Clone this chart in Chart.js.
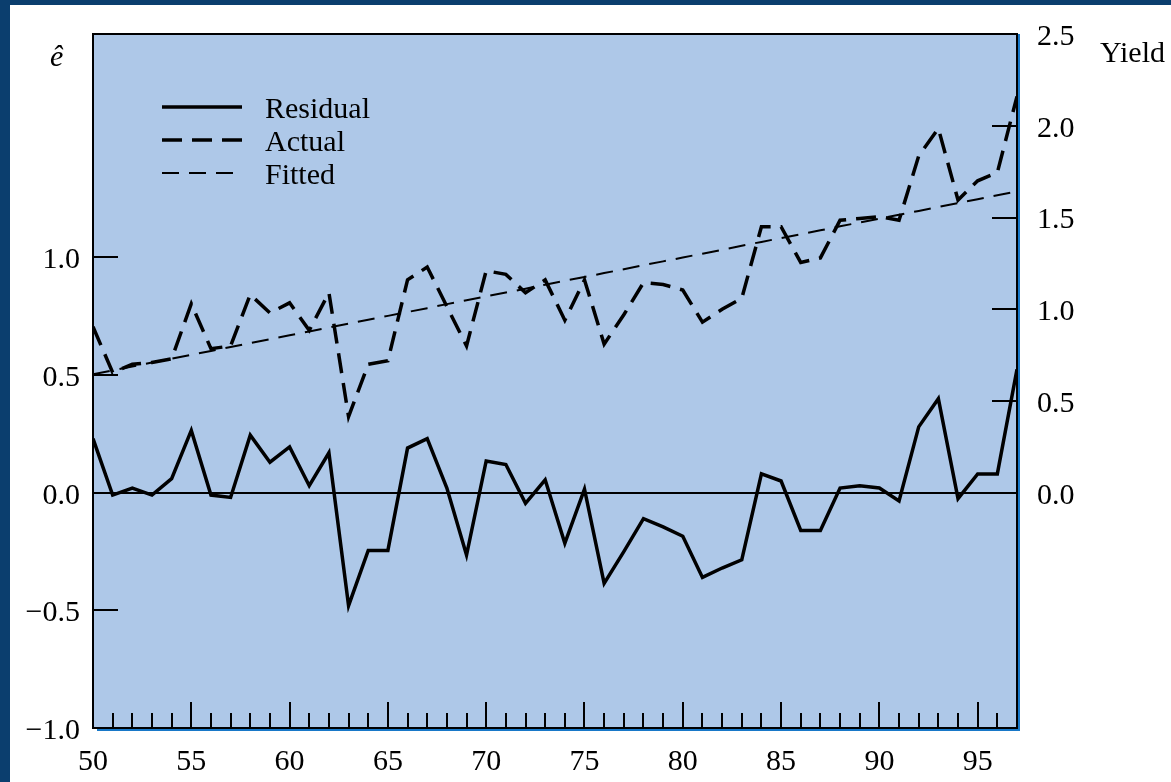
<!DOCTYPE html>
<html>
<head>
<meta charset="utf-8">
<script src="https://cdn.jsdelivr.net/npm/chart.js@4.4.1/dist/chart.umd.min.js"></script>
<style>
  html, body { margin: 0; padding: 0; background: #fff; overflow: hidden; }
  canvas { display: block; }
</style>
</head>
<body>
<canvas id="c" width="1171" height="782"></canvas>
<script>
// Years 1950-1997 (two-digit labels)
const years = [50, 51, 52, 53, 54, 55, 56, 57, 58, 59,
               60, 61, 62, 63, 64, 65, 66, 67, 68, 69,
               70, 71, 72, 73, 74, 75, 76, 77, 78, 79,
               80, 81, 82, 83, 84, 85, 86, 87, 88, 89,
               90, 91, 92, 93, 94, 95, 96, 97];

// Residuals (left axis, e-hat)
const residual = [0.23, -0.01, 0.02, -0.01, 0.06, 0.265, -0.01, -0.02, 0.245, 0.13,
                  0.195, 0.03, 0.17, -0.48, -0.245, -0.245, 0.19, 0.23, 0.02, -0.265,
                  0.135, 0.12, -0.045, 0.055, -0.215, 0.015, -0.385, -0.25, -0.11, -0.145,
                  -0.185, -0.36, -0.32, -0.285, 0.08, 0.05, -0.16, -0.16, 0.02, 0.03,
                  0.02, -0.035, 0.28, 0.40, -0.025, 0.08, 0.08, 0.525];

// Actual yield (right axis)
const actual = [0.905, 0.655, 0.70, 0.71, 0.73, 1.03, 0.785, 0.80, 1.08, 0.98,
                1.035, 0.885, 1.09, 0.415, 0.70, 0.72, 1.16, 1.23, 1.015, 0.80,
                1.21, 1.19, 1.09, 1.16, 0.94, 1.16, 0.81, 0.97, 1.145, 1.135,
                1.105, 0.93, 1.00, 1.06, 1.45, 1.45, 1.255, 1.28, 1.485, 1.495,
                1.505, 1.485, 1.835, 1.985, 1.595, 1.70, 1.745, 2.16];

// Fitted yield (right axis)
const fitted = [0.646, 0.667, 0.688, 0.71, 0.731, 0.752, 0.773, 0.794, 0.816, 0.837,
                0.858, 0.879, 0.90, 0.922, 0.943, 0.964, 0.985, 1.006, 1.028, 1.049,
                1.07, 1.091, 1.112, 1.134, 1.155, 1.176, 1.197, 1.218, 1.24, 1.261,
                1.282, 1.303, 1.324, 1.346, 1.367, 1.388, 1.409, 1.43, 1.452, 1.473,
                1.494, 1.515, 1.536, 1.558, 1.579, 1.60, 1.621, 1.642];

const residualTicks = [-1, -0.5, 0, 0.5, 1];
const yieldTicks = [0, 0.5, 1, 1.5, 2, 2.5];
const seriesNames = ['Residual', 'Actual', 'Fitted'];

const FONT = '"Liberation Serif", "Times New Roman", serif';
const INK = '#000';
const fmt = v => (v < 0 ? '\u2212' : '') + Math.abs(v).toFixed(1);
const pts = arr => years.map((yr, i) => ({ x: yr, y: arr[i] }));

// Page frame, plot background, inward tick marks, plot border, legend and axis titles
const decor = {
  id: 'decor',
  beforeDraw(chart) {
    const { ctx, chartArea: a, width, height } = chart;
    ctx.save();
    ctx.fillStyle = '#fff';
    ctx.fillRect(0, 0, width, height);
    ctx.fillStyle = '#0b3e6e';
    ctx.fillRect(0, 0, width, 5);
    ctx.fillRect(0, 0, 10, height);
    ctx.fillStyle = '#aec8e8';
    ctx.fillRect(a.left, a.top, a.right - a.left, a.bottom - a.top);
    ctx.restore();
  },
  afterDraw(chart) {
    const { ctx, chartArea: a, scales } = chart;
    ctx.save();
    ctx.strokeStyle = INK;
    ctx.lineWidth = 2;
    ctx.setLineDash([]);
    ctx.beginPath();
    // x ticks, pointing up into the plot
    scales.x.ticks.forEach(t => {
      if (t.value <= scales.x.min || t.value >= scales.x.max) return;
      const px = Math.round(scales.x.getPixelForValue(t.value));
      const len = t.value % 5 === 0 ? 26 : 15;
      ctx.moveTo(px, a.bottom);
      ctx.lineTo(px, a.bottom - len);
    });
    // left ticks
    scales.y.ticks.forEach(t => {
      if (t.value === 0 || t.value <= scales.y.min) return;
      const py = Math.round(scales.y.getPixelForValue(t.value));
      ctx.moveTo(a.left, py);
      ctx.lineTo(a.left + 25, py);
    });
    // right ticks
    scales.y1.ticks.forEach(t => {
      if (t.value === 0 || t.value >= scales.y1.max) return;
      const py = Math.round(scales.y1.getPixelForValue(t.value));
      ctx.moveTo(a.right, py);
      ctx.lineTo(a.right - 25, py);
    });
    ctx.stroke();

    // plot border
    ctx.strokeRect(a.left, a.top, a.right - a.left, a.bottom - a.top);
    ctx.strokeStyle = '#1878c8';
    ctx.beginPath();
    ctx.moveTo(a.right + 2, a.top);
    ctx.lineTo(a.right + 2, a.bottom + 2);
    ctx.lineTo(a.left + 4, a.bottom + 2);
    ctx.stroke();

    // legend
    const ly = [107, 140, 173];
    chart.data.datasets.forEach((ds, i) => {
      ctx.strokeStyle = ds.borderColor;
      ctx.lineWidth = ds.borderWidth;
      ctx.setLineDash(ds.borderDash || []);
      ctx.beginPath();
      ctx.moveTo(162, ly[i]);
      ctx.lineTo(242, ly[i]);
      ctx.stroke();
    });
    ctx.setLineDash([]);
    ctx.fillStyle = INK;
    ctx.font = '30px ' + FONT;
    ctx.textBaseline = 'alphabetic';
    ctx.textAlign = 'left';
    seriesNames.forEach((n, i) => ctx.fillText(n, 265, ly[i] + 11));

    // axis titles
    ctx.fillText('Yield', 1100, 62);
    ctx.font = 'italic 30px ' + FONT;
    ctx.fillText('\u00ea', 50, 66);
    ctx.restore();
  }
};

new Chart(document.getElementById('c'), {
  type: 'line',
  data: {
    datasets: [
      { label: seriesNames[0], data: pts(residual), yAxisID: 'y',
        borderColor: '#000', borderWidth: 3.5, pointRadius: 0, tension: 0, fill: false },
      { label: seriesNames[1], data: pts(actual), yAxisID: 'y1',
        borderColor: '#000', borderWidth: 3.5, borderDash: [20, 10], pointRadius: 0, tension: 0, fill: false },
      { label: seriesNames[2], data: pts(fitted), yAxisID: 'y1',
        borderColor: '#000', borderWidth: 2, borderDash: [17, 10], pointRadius: 0, tension: 0, fill: false }
    ]
  },
  options: {
    responsive: false,
    animation: false,
    devicePixelRatio: 1,
    layout: { padding: { top: 34, left: 0, right: 0, bottom: 0 } },
    plugins: { legend: { display: false }, tooltip: { enabled: false } },
    scales: {
      x: {
        type: 'linear', position: 'bottom', min: 50, max: 97,
        afterFit: s => { s.height = 54; },
        afterBuildTicks: s => { s.ticks = years.map(v => ({ value: v })); },
        ticks: {
          autoSkip: false, maxRotation: 0, padding: 8, color: INK,
          font: { family: FONT, size: 30 },
          callback: v => (v % 5 === 0 ? String(v) : '')
        },
        grid: { display: false },
        border: { display: false }
      },
      y: {
        position: 'left', min: -1, max: 1.95,
        afterFit: s => { s.width = 93; },
        afterBuildTicks: s => { s.ticks = residualTicks.map(v => ({ value: v })); },
        ticks: { padding: 13, labelOffset: 3, color: INK, font: { family: FONT, size: 30 }, callback: fmt },
        grid: {
          drawTicks: false, lineWidth: 2,
          color: c => (c.tick && c.tick.value === 0 ? INK : 'rgba(0,0,0,0)')
        },
        border: { display: false }
      },
      y1: {
        position: 'right', min: -1.282, max: 2.5,
        afterFit: s => { s.width = 154; },
        afterBuildTicks: s => { s.ticks = yieldTicks.map(v => ({ value: v })); },
        ticks: { padding: 12, labelOffset: 3, color: INK, font: { family: FONT, size: 30 }, callback: fmt },
        grid: { display: false },
        border: { display: false }
      }
    }
  },
  plugins: [decor]
});
</script>
</body>
</html>
